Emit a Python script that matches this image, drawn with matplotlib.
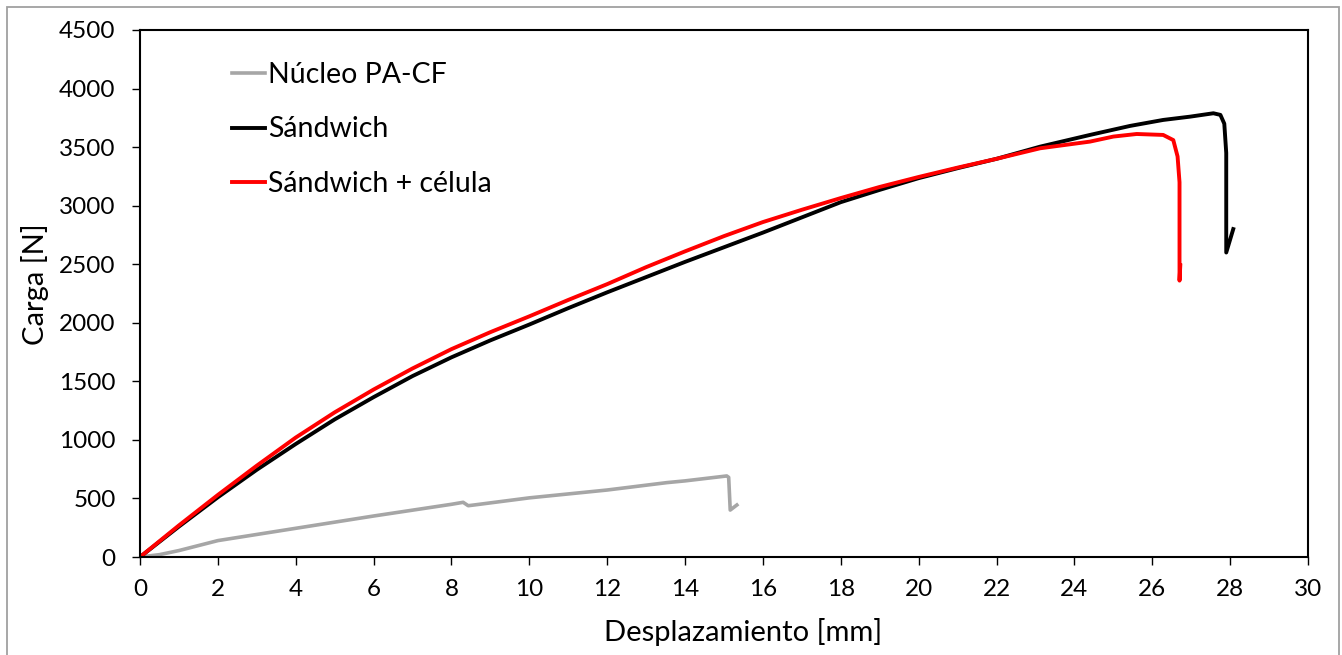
import matplotlib
matplotlib.use("Agg")
import matplotlib.pyplot as plt
from matplotlib.patches import Rectangle

# Data
nucleo_x = [0, 0.5, 1, 2, 4, 6, 8, 8.3, 8.43, 8.6, 10, 12, 13.53, 14, 15.07, 15.12, 15.16, 15.33]
nucleo_y = [0, 20, 55, 140, 245, 350, 450, 467, 438, 445, 505, 572, 635, 650, 692, 680, 401, 444]

sandwich_x = [0, 1, 2, 3, 4, 5, 6, 7, 8, 9, 10, 11, 12, 13, 14, 15, 16, 17, 18, 19, 20, 21, 22,
              23.12, 24.4, 25.43, 26.28, 26.97, 27.57, 27.75, 27.85, 27.9, 27.9, 28.08]
sandwich_y = [0, 260, 510, 745, 965, 1175, 1365, 1545, 1705, 1850, 1985, 2125, 2260, 2390,
              2520, 2645, 2770, 2900, 3030, 3135, 3235, 3320, 3400, 3504, 3604, 3681, 3732,
              3760, 3789, 3775, 3700, 3450, 2600, 2800]

celula_x = [0, 1, 2, 3, 4, 5, 6, 7, 8, 9, 10, 11, 12, 13, 14, 15, 16, 17, 18, 19, 20, 21, 22,
            23.12, 24.4, 25.0, 25.6, 26.28, 26.54, 26.65, 26.7, 26.7, 26.72]
celula_y = [0, 270, 530, 780, 1020, 1235, 1430, 1610, 1775, 1920, 2055, 2195, 2330, 2475,
            2610, 2740, 2860, 2965, 3065, 3160, 3245, 3325, 3400, 3490, 3547, 3590, 3612,
            3604, 3560, 3420, 3200, 2360, 2490]

labels = ["Núcleo PA-CF", "Sándwich", "Sándwich + célula"]
colors = ["#a6a6a6", "#000000", "#ff0000"]

x_ticks = list(range(0, 31, 2))
y_ticks = list(range(0, 4501, 500))

plt.rcParams['font.family'] = ['Lato', 'DejaVu Sans']

fig = plt.figure(figsize=(13.42, 6.55), dpi=100)
ax = fig.add_axes([140/1342, 1-557/655, (1308-140)/1342, (557-30)/655])

ax.plot(nucleo_x, nucleo_y, color=colors[0], lw=2.6, label=labels[0], solid_joinstyle='round')
ax.plot(sandwich_x, sandwich_y, color=colors[1], lw=2.8, label=labels[1], solid_joinstyle='round')
ax.plot(celula_x, celula_y, color=colors[2], lw=2.8, label=labels[2], solid_joinstyle='round')

ax.set_xlim(0, 30)
ax.set_ylim(0, 4500)
ax.set_xticks(x_ticks)
ax.set_yticks(y_ticks)
ax.tick_params(direction='out', length=5.5, width=1, labelsize=17.5, colors='black')
ax.tick_params(axis='x', pad=10)
ax.tick_params(axis='y', pad=12)
for s in ax.spines.values():
    s.set_linewidth(1.5)
    s.set_color('black')

ax.set_xlabel("Desplazamiento [mm]", fontsize=21)
ax.set_ylabel("Carga [N]", fontsize=21)
ax.xaxis.label.set_va('center')
ax.yaxis.label.set_va('center')
ax.xaxis.set_label_coords((743 - 140) / 1168, (557 - 632) / 527)
ax.yaxis.set_label_coords((35 - 140) / 1168, (557 - 284) / 527)

leg = ax.legend(loc='upper left', bbox_to_anchor=(232/1342, 1-62/655),
                bbox_transform=fig.transFigure, frameon=False, fontsize=20.5,
                handlelength=1.16, handletextpad=0.12, labelspacing=1.0,
                borderpad=0, borderaxespad=0)

fig.patches.append(Rectangle((7/1342, -0.02), (1339-7)/1342, 1-7/655+0.02,
                             transform=fig.transFigure, fill=False,
                             edgecolor='#a0a0a0', lw=1.3))

fig.savefig("out.png", dpi=100)
